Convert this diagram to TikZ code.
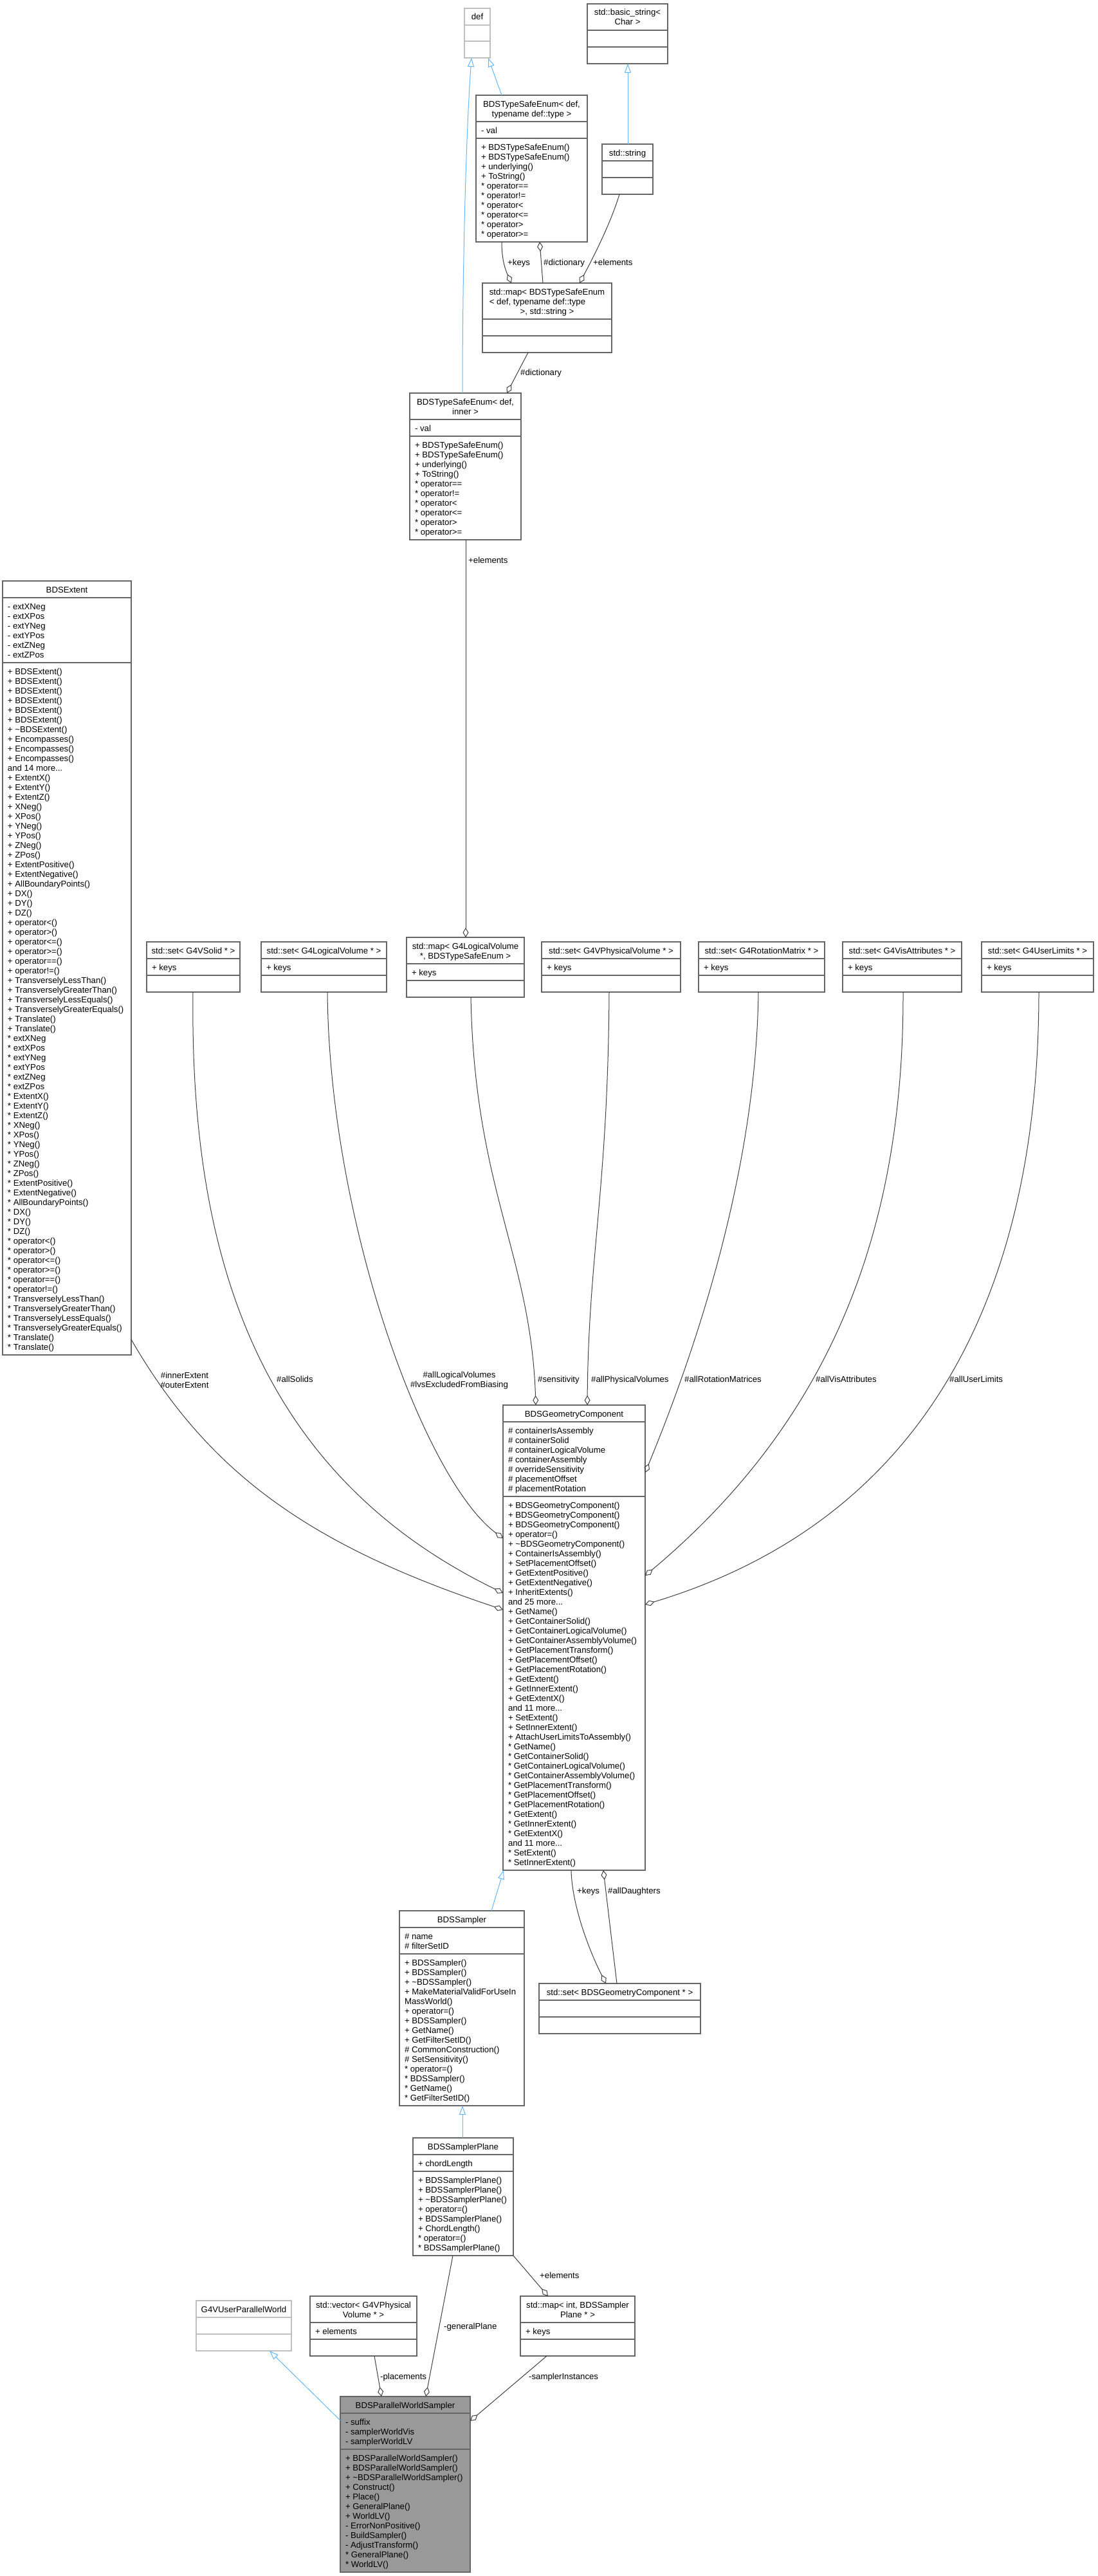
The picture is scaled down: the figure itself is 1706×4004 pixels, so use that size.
\documentclass[tikz,border=0pt]{standalone}
\usepackage{fontspec}
\setmainfont{Liberation Sans}
\usetikzlibrary{arrows.meta,calc}
\definecolor{gborder}{HTML}{666666}
\definecolor{glight}{HTML}{BFBFBF}
\definecolor{gedge}{HTML}{404040}
\definecolor{ginh}{HTML}{63B8FF}
\definecolor{groot}{HTML}{999999}
\newcommand{\fsz}{\fontsize{13.2}{15}\selectfont}
\tikzset{
  boxn/.style={rectangle, inner sep=0pt, outer sep=0pt, line width=1.2pt},
  ttl/.style={anchor=north, inner sep=0pt, outer sep=0pt, align=center, font=\fsz},
  fld/.style={anchor=north west, inner sep=0pt, outer sep=0pt, align=left, font=\fsz},
  lbl/.style={anchor=west, inner sep=0pt, font=\fsz},
  lblc/.style={anchor=center, inner sep=0pt, align=center, font=\fsz},
  agg/.style={draw=gedge, line width=1pt, -{Diamond[open, length=15pt, width=9pt]}},
  inh/.style={draw=ginh, line width=1pt, -{Triangle[open, length=14pt, width=10pt]}}
}
% name, left, top, right, h1, h2, h3, border colour, fill colour
\newcommand{\cbox}[9]{%
  \node[boxn, draw=#8, fill=#9, anchor=north west,
        minimum width={(#4-#2)*1pt}, minimum height={(#5+#6+#7)*1pt}] (#1) at (#2,#3) {};
  \draw[draw=#8, line width=1.2pt] ($(#1.north west)+(0,#5)$) -- ($(#1.north east)+(0,#5)$);
  \draw[draw=#8, line width=1.2pt] ($(#1.north west)+(0,{#5+#6})$) -- ($(#1.north east)+(0,{#5+#6})$);
}
\newcommand{\ctitle}[2]{\node[ttl] (#1-t) at ($(#1.north)+(0,7.5)$) {\strut #2};}
\newcommand{\cfield}[4]{\node[fld] (#1-#2) at ($(#1.north west)+(8,{#3+7.5})$) {\strut #4};}

\begin{document}
\begin{tikzpicture}[x=1pt, y=-1pt]
\fill[white] (0,0) rectangle (1706,4004);
\useasboundingbox (0,0) rectangle (1706,4004);

% ---------------- top area ----------------
\cbox{def}{722}{13}{762}{26}{25}{26}{glight}{white}
\ctitle{def}{def}

\cbox{bstr}{913}{6}{1038}{41}{26}{26}{gborder}{white}
\ctitle{bstr}{std::basic\_string<\\Char >}

\cbox{tse1}{740}{148}{913}{41}{26}{161}{gborder}{white}
\ctitle{tse1}{BDSTypeSafeEnum< def,\\typename def::type >}
\cfield{tse1}{a}{41}{- val}
\cfield{tse1}{m}{67}{+ BDSTypeSafeEnum()\\+ BDSTypeSafeEnum()\\+ underlying()\\+ ToString()\\{}* operator==\\{}* operator!=\\{}* operator<\\{}* operator<=\\{}* operator>\\{}* operator>=}

\cbox{str}{936}{224}{1015}{26}{26}{26}{gborder}{white}
\ctitle{str}{std::string}

\cbox{maptse}{750}{440}{951}{56}{26}{26}{gborder}{white}
\node[ttl] (maptse-t) at ($(maptse.north)+(0,7.5)$) {\strut std::map< BDSTypeSafeEnum};
\node[fld] (maptse-t2) at (maptse-t.south west) {\strut < def, typename def::type};
\node[ttl] (maptse-t3) at ($(maptse.north)+(0,37.5)$) {\strut >, std::string >};

\cbox{tse2}{637}{611}{810}{41}{26}{161}{gborder}{white}
\ctitle{tse2}{BDSTypeSafeEnum< def,\\inner >}
\cfield{tse2}{a}{41}{- val}
\cfield{tse2}{m}{67}{+ BDSTypeSafeEnum()\\+ BDSTypeSafeEnum()\\+ underlying()\\+ ToString()\\{}* operator==\\{}* operator!=\\{}* operator<\\{}* operator<=\\{}* operator>\\{}* operator>=}

% ---------------- BDSExtent ----------------
\cbox{ext}{4}{903}{204}{26}{101}{1076}{gborder}{white}
\ctitle{ext}{BDSExtent}
\cfield{ext}{a}{26}{- extXNeg\\- extXPos\\- extYNeg\\- extYPos\\- extZNeg\\- extZPos}
\cfield{ext}{m}{127}{+ BDSExtent()\\+ BDSExtent()\\+ BDSExtent()\\+ BDSExtent()\\+ BDSExtent()\\+ BDSExtent()\\+ \textasciitilde BDSExtent()\\+ Encompasses()\\+ Encompasses()\\+ Encompasses()\\and 14 more...\\+ ExtentX()\\+ ExtentY()\\+ ExtentZ()\\+ XNeg()\\+ XPos()\\+ YNeg()\\+ YPos()\\+ ZNeg()\\+ ZPos()\\+ ExtentPositive()\\+ ExtentNegative()\\+ AllBoundaryPoints()\\+ DX()\\+ DY()\\+ DZ()\\+ operator<()\\+ operator>()\\+ operator<=()\\+ operator>=()\\+ operator==()\\+ operator!=()\\+ TransverselyLessThan()\\+ TransverselyGreaterThan()\\+ TransverselyLessEquals()\\+ TransverselyGreaterEquals()\\+ Translate()\\+ Translate()\\{}* extXNeg\\{}* extXPos\\{}* extYNeg\\{}* extYPos\\{}* extZNeg\\{}* extZPos\\{}* ExtentX()\\{}* ExtentY()\\{}* ExtentZ()\\{}* XNeg()\\{}* XPos()\\{}* YNeg()\\{}* YPos()\\{}* ZNeg()\\{}* ZPos()\\{}* ExtentPositive()\\{}* ExtentNegative()\\{}* AllBoundaryPoints()\\{}* DX()\\{}* DY()\\{}* DZ()\\{}* operator<()\\{}* operator>()\\{}* operator<=()\\{}* operator>=()\\{}* operator==()\\{}* operator!=()\\{}* TransverselyLessThan()\\{}* TransverselyGreaterThan()\\{}* TransverselyLessEquals()\\{}* TransverselyGreaterEquals()\\{}* Translate()\\{}* Translate()}

% ---------------- container row ----------------
\cbox{sSolid}{228}{1464}{373}{26}{26}{26}{gborder}{white}
\ctitle{sSolid}{std::set< G4VSolid * >}
\cfield{sSolid}{a}{26}{+ keys}

\cbox{sLV}{406}{1464}{601}{26}{26}{26}{gborder}{white}
\ctitle{sLV}{std::set< G4LogicalVolume * >}
\cfield{sLV}{a}{26}{+ keys}

\cbox{mLV}{632}{1457}{815}{41}{26}{26}{gborder}{white}
\ctitle{mLV}{std::map< G4LogicalVolume\\ *, BDSTypeSafeEnum >}
\cfield{mLV}{a}{41}{+ keys}

\cbox{sPV}{842}{1464}{1058}{26}{26}{26}{gborder}{white}
\ctitle{sPV}{std::set< G4VPhysicalVolume * >}
\cfield{sPV}{a}{26}{+ keys}

\cbox{sRM}{1086}{1464}{1282}{26}{26}{26}{gborder}{white}
\ctitle{sRM}{std::set< G4RotationMatrix * >}
\cfield{sRM}{a}{26}{+ keys}

\cbox{sVA}{1310}{1464}{1495}{26}{26}{26}{gborder}{white}
\ctitle{sVA}{std::set< G4VisAttributes * >}
\cfield{sVA}{a}{26}{+ keys}

\cbox{sUL}{1526}{1464}{1700}{26}{26}{26}{gborder}{white}
\ctitle{sUL}{std::set< G4UserLimits * >}
\cfield{sUL}{a}{26}{+ keys}

% ---------------- BDSGeometryComponent ----------------
\cbox{geo}{782}{2184}{1003}{26}{116}{581}{gborder}{white}
\ctitle{geo}{BDSGeometryComponent}
\cfield{geo}{a}{26}{\# containerIsAssembly\\\# containerSolid\\\# containerLogicalVolume\\\# containerAssembly\\\# overrideSensitivity\\\# placementOffset\\\# placementRotation}
\cfield{geo}{m}{142}{+ BDSGeometryComponent()\\+ BDSGeometryComponent()\\+ BDSGeometryComponent()\\+ operator=()\\+ \textasciitilde BDSGeometryComponent()\\+ ContainerIsAssembly()\\+ SetPlacementOffset()\\+ GetExtentPositive()\\+ GetExtentNegative()\\+ InheritExtents()\\and 25 more...\\+ GetName()\\+ GetContainerSolid()\\+ GetContainerLogicalVolume()\\+ GetContainerAssemblyVolume()\\+ GetPlacementTransform()\\+ GetPlacementOffset()\\+ GetPlacementRotation()\\+ GetExtent()\\+ GetInnerExtent()\\+ GetExtentX()\\and 11 more...\\+ SetExtent()\\+ SetInnerExtent()\\+ AttachUserLimitsToAssembly()\\{}* GetName()\\{}* GetContainerSolid()\\{}* GetContainerLogicalVolume()\\{}* GetContainerAssemblyVolume()\\{}* GetPlacementTransform()\\{}* GetPlacementOffset()\\{}* GetPlacementRotation()\\{}* GetExtent()\\{}* GetInnerExtent()\\{}* GetExtentX()\\and 11 more...\\{}* SetExtent()\\{}* SetInnerExtent()}

\cbox{sGC}{838}{3083}{1089}{26}{26}{26}{gborder}{white}
\ctitle{sGC}{std::set< BDSGeometryComponent * >}

% ---------------- samplers ----------------
\cbox{smp}{621}{2970}{815}{26}{41}{236}{gborder}{white}
\ctitle{smp}{BDSSampler}
\cfield{smp}{a}{26}{\# name\\\# filterSetID}
\cfield{smp}{m}{67}{+ BDSSampler()\\+ BDSSampler()\\+ \textasciitilde BDSSampler()\\+ MakeMaterialValidForUseIn\\MassWorld()\\+ operator=()\\+ BDSSampler()\\+ GetName()\\+ GetFilterSetID()\\\# CommonConstruction()\\\# SetSensitivity()\\{}* operator=()\\{}* BDSSampler()\\{}* GetName()\\{}* GetFilterSetID()}

\cbox{plane}{642}{3323}{798}{26}{26}{131}{gborder}{white}
\ctitle{plane}{BDSSamplerPlane}
\cfield{plane}{a}{26}{+ chordLength}
\cfield{plane}{m}{52}{+ BDSSamplerPlane()\\+ BDSSamplerPlane()\\+ \textasciitilde BDSSamplerPlane()\\+ operator=()\\+ BDSSamplerPlane()\\+ ChordLength()\\{}* operator=()\\{}* BDSSamplerPlane()}

\cbox{upw}{305}{3576}{453}{26}{26}{26}{glight}{white}
\ctitle{upw}{G4VUserParallelWorld}

\cbox{vec}{482}{3569}{648}{41}{26}{26}{gborder}{white}
\ctitle{vec}{std::vector< G4VPhysical\\Volume * >}
\cfield{vec}{a}{41}{+ elements}

\cbox{mint}{809}{3569}{987}{41}{26}{26}{gborder}{white}
\ctitle{mint}{std::map< int, BDSSampler\\Plane * >}
\cfield{mint}{a}{41}{+ keys}

\cbox{pws}{529}{3725}{731}{26}{56}{191}{gborder}{groot}
\ctitle{pws}{BDSParallelWorldSampler}
\cfield{pws}{a}{26}{- suffix\\- samplerWorldVis\\- samplerWorldLV}
\cfield{pws}{m}{82}{+ BDSParallelWorldSampler()\\+ BDSParallelWorldSampler()\\+ \textasciitilde BDSParallelWorldSampler()\\+ Construct()\\+ Place()\\+ GeneralPlane()\\+ WorldLV()\\- ErrorNonPositive()\\- BuildSampler()\\- AdjustTransform()\\{}* GeneralPlane()\\{}* WorldLV()}

% ---------------- connectors: top ----------------
\draw[inh] ($(tse1.north west)+(40,0)$) -- ($(def.south west)+(37,0)$);
\draw[inh] ($(tse2.north west)+(82,0)$) .. controls (719,400) and (725,200) .. ($(def.south west)+(11,0)$);
\draw[inh] ($(str.north west)+(40,0)$) -- ($(bstr.south west)+(63,0)$);
\draw[agg] ($(tse1.south west)+(40,0)$) .. controls (780,405) and (786,420) .. ($(maptse.north west)+(45,0)$);
\draw[agg] ($(maptse.north west)+(94,0)$) -- ($(tse1.south west)+(99,0)$);
\draw[agg] ($(str.south west)+(27,0)$) .. controls (950,345) and (925,395) .. ($(maptse.north west)+(151,0)$);
\draw[agg] ($(maptse.south west)+(71,0)$) -- ($(tse2.north west)+(151,0)$);
\draw[agg] ($(tse2.south west)+(87,0)$) -- ($(mLV.north west)+(92,0)$);

\node[lbl] (l-keys1) at (789,409) {\strut +keys};
\node[lbl] (l-dict1) at (845,409) {\strut \#dictionary};
\node[lbl] (l-elem1) at (922,409) {\strut +elements};
\node[lbl] (l-dict2) at (809,580) {\strut \#dictionary};
\node[lbl] (l-elem2) at (728,872) {\strut +elements};

% ---------------- connectors: into BDSGeometryComponent ----------------
\draw[agg] ($(ext.south east)+(0,-24)$) .. controls (324,2290) and (482,2402) .. ($(geo.north west)+(0,318)$);
\draw[agg] ($(sSolid.south west)+(72,0)$) .. controls (295,1950) and (400,2290) .. ($(geo.north west)+(0,292)$);
\draw[agg] ($(sLV.south west)+(103,0)$) .. controls (512,1900) and (660,2300) .. ($(geo.north west)+(0,207)$);
\draw[agg] ($(mLV.south west)+(100,0)$) .. controls (738,1850) and (825,1950) .. ($(geo.north west)+(51,0)$);
\draw[agg] ($(sPV.south west)+(105,0)$) .. controls (945,1850) and (915,1950) .. ($(geo.north west)+(131,0)$);
\draw[agg] ($(sRM.south west)+(93,0)$) .. controls (1175,1850) and (1060,2150) .. ($(geo.north east)+(0,105)$);
\draw[agg] ($(sVA.south west)+(94,0)$) .. controls (1405,1900) and (1300,2200) .. ($(geo.north east)+(0,265)$);
\draw[agg] ($(sUL.south west)+(89,0)$) .. controls (1615,1950) and (1480,2350) .. ($(geo.north east)+(0,310)$);

\node[lblc] (l-ext) at (287,2145) {\strut \#innerExtent\\\#outerExtent};
\node[lbl] (l-sol) at (430,2145) {\strut \#allSolids};
\node[lblc] (l-lv) at (714,2145) {\strut \#allLogicalVolumes\\\#lvsExcludedFromBiasing};
\node[lbl] (l-sens) at (836,2145) {\strut \#sensitivity};
\node[lbl] (l-pv) at (919,2145) {\strut \#allPhysicalVolumes};
\node[lbl] (l-rm) at (1064,2145) {\strut \#allRotationMatrices};
\node[lbl] (l-va) at (1268,2145) {\strut \#allVisAttributes};
\node[lbl] (l-ul) at (1476,2145) {\strut \#allUserLimits};

% ---------------- connectors: lower part ----------------
\draw[inh] ($(smp.north west)+(143,0)$) -- ($(geo.south west)+(1,0)$);
\draw[agg] ($(geo.south west)+(106,0)$) .. controls (889,2960) and (915,3030) .. ($(sGC.north west)+(104,0)$);
\draw[agg] ($(sGC.north west)+(121,0)$) -- ($(geo.south west)+(156,0)$);
\draw[inh] ($(plane.north west)+(77,0)$) -- ($(smp.south west)+(98,0)$);
\draw[agg] (plane.south east) -- ($(mint.north west)+(43,0)$);
\draw[agg] ($(plane.south west)+(62,0)$) -- ($(pws.north west)+(133,0)$);
\draw[agg] ($(vec.south west)+(100,0)$) -- ($(pws.north west)+(64,0)$);
\draw[agg] ($(mint.south west)+(41,0)$) -- ($(pws.north east)+(0,38)$);
\draw[inh] ($(pws.north west)+(0,37)$) -- ($(upw.south west)+(114,0)$);

\node[lbl] (l-keys2) at (897,2940) {\strut +keys};
\node[lbl] (l-daug) at (945,2940) {\strut \#allDaughters};
\node[lbl] (l-elem3) at (839,3538) {\strut +elements};
\node[lbl] (l-gp) at (690,3617) {\strut -generalPlane};
\node[lbl] (l-pl) at (591,3695) {\strut -placements};
\node[lbl] (l-si) at (822,3695) {\strut -samplerInstances};
\end{tikzpicture}
\end{document}
